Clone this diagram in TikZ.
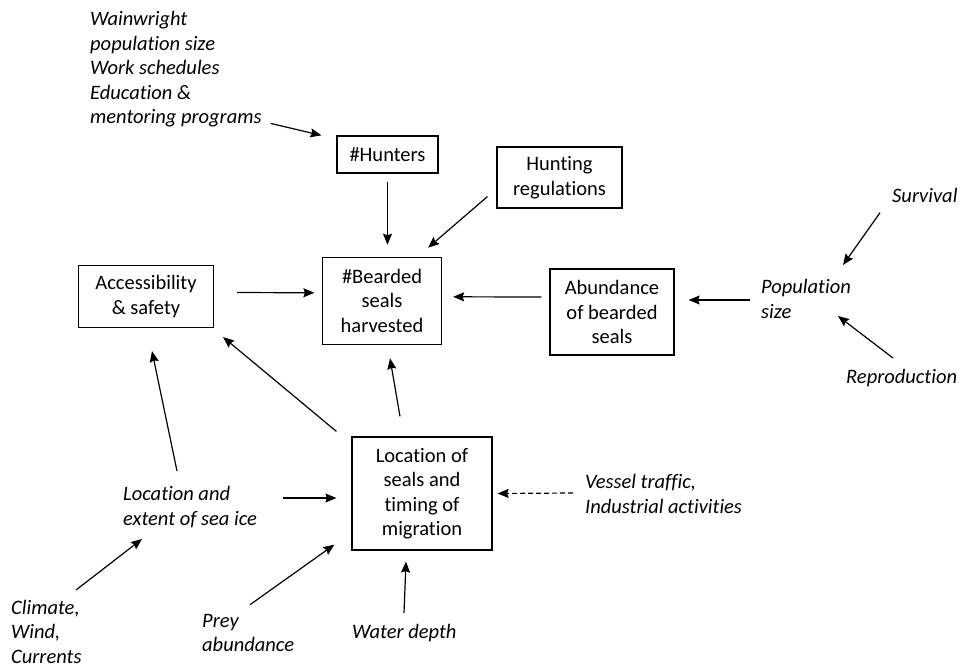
\documentclass[tikz,border=0pt]{standalone}
\usepackage{fontspec}
\setmainfont{Carlito}[Ligatures=NoCommon]
\usetikzlibrary{arrows.meta,calc}
\tikzset{
  box/.style={draw, line width=1.2pt, align=center, inner sep=0pt, font=\fontsize{20.5}{24.5}\selectfont},
  factor/.style={align=left, inner sep=0pt, anchor=base west, font=\fontsize{20.5}{24.5}\selectfont\itshape},
  arr/.style={-{Stealth[length=11pt,width=9pt,inset=1.5pt]}, line width=1.2pt},
}
\begin{document}
\begin{tikzpicture}[x=1pt,y=-1pt]
\useasboundingbox (0,0) rectangle (960,667);

% boxes
\node[box, minimum width=101pt, minimum height=37pt] (hunters) at (387.5,154.5) {\#Hunters};
\node[box, minimum width=125pt, minimum height=61pt] (regs) at (559.5,177.5) {Hunting\\regulations};
\node[box, minimum width=119pt, minimum height=87pt] (bearded) at (382,300.8) {\#Bearded\\seals\\harvested};
\node[box, minimum width=135pt, minimum height=62pt] (access) at (146,296.5) {Accessibility\\\& safety};
\node[box, minimum width=124pt, minimum height=86pt] (abund) at (612,312) {Abundance\\of bearded\\seals};
\node[box, minimum width=140pt, minimum height=113pt] (locat) at (422,493.5) {Location of\\seals and\\timing of\\migration};

% drivers (base = last line)
\node[factor] (wain) at (90,123.7) {Wainwright\\population size\\Work schedules\\Education \&\\mentoring programs};
\node[factor] (popsize) at (761,318) {Population\\size};
\node[factor] (survival) at (892,202.7) {Survival};
\node[factor] (reprod) at (846,383) {Reproduction};
\node[factor] (seaice) at (123,525) {Location and\\extent of sea ice};
\node[factor] (climate) at (11,663) {Climate,\\Wind,\\Currents};
\node[factor] (prey) at (202,651.7) {Prey\\abundance};
\node[factor] (water) at (352,638) {Water depth};
\node[factor] (vessel) at (585,513) {Vessel traffic,\\Industrial activities};

% links
\draw[arr] ($(wain.south east)+(9,-4)$) -- ($(hunters.north west)+(-15,0)$);
\draw[arr] ($(hunters.south)+(0,8)$) -- ($(hunters.south |- bearded.north)+(0,-12)$);
\draw[arr] ($(regs.south west)+(-9,-12)$) -- ($(bearded.north east)+(-14,-9)$);
\draw[arr] ($(access.east)+(23,-4)$) -- ($(bearded.west)+(-7.5,-8)$);
\draw[arr] ($(abund.west)+(-8,-15)$) -- ($(bearded.east)+(11,-4)$);
\draw[arr] ($(popsize.base west)+(-11,-18)$) -- ($(abund.east)+(14,-12)$);
\draw[arr] ($(survival.base west)+(-12,10)$) -- ($(popsize.base west)+(82,-53)$);
\draw[arr] ($(reprod.base west)+(47,-25)$) -- ($(popsize.base west)+(77,-2)$);
\draw[arr] ($(locat.north)+(-22,-20)$) -- ($(bearded.south)+(8,13.4)$);
\draw[arr] ($(locat.north west)+(-15,-5)$) -- ($(access.south east)+(9,9)$);
\draw[arr] ($(seaice.base west)+(54,-54)$) -- ($(access.south)+(6,23)$);
\draw[arr] ($(seaice.base west)+(160,-27)$) -- ($(locat.west)+(-15,4.5)$);
\draw[arr] ($(climate.base west)+(65,-73)$) -- ($(seaice.base west)+(19,14)$);
\draw[arr] ($(prey.base west)+(48,-47)$) -- ($(locat.south west)+(-17,-6)$);
\draw[arr] ($(water.base west)+(52,-25)$) -- ($(locat.south)+(-16,11)$);
\draw[arr, dash pattern=on 5pt off 3pt] ($(vessel.base west)+(-12,-20)$) -- ($(locat.east)+(5,0)$);
\end{tikzpicture}
\end{document}
